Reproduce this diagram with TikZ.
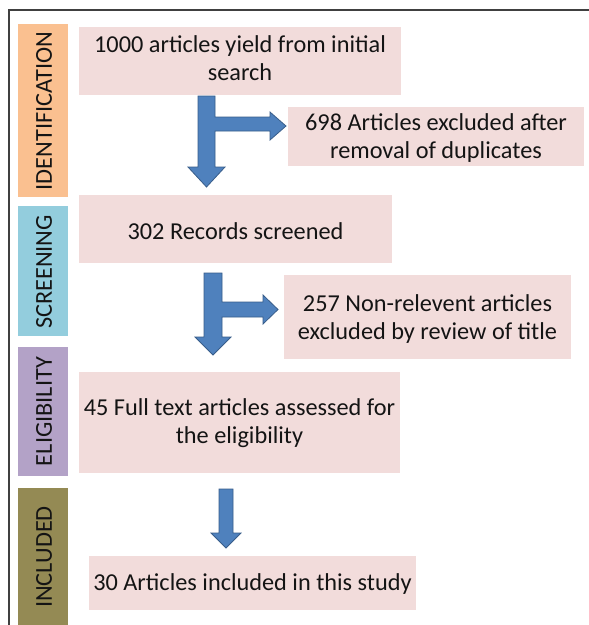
\documentclass[tikz,border=0pt]{standalone}
\usepackage{fontspec}
\setmainfont{Carlito}
\definecolor{boxpink}{HTML}{F2DCDB}
\definecolor{arrfill}{HTML}{4F81BD}
\definecolor{arrline}{HTML}{385D8A}
\definecolor{idcol}{HTML}{FAC090}
\definecolor{sccol}{HTML}{93CDDD}
\definecolor{elcol}{HTML}{B3A2C7}
\definecolor{incol}{HTML}{948A54}
\definecolor{txt}{HTML}{141414}
\definecolor{frame}{HTML}{404040}
\begin{document}
\begin{tikzpicture}[x=1pt,y=-1pt,
  stagebox/.style={fill=none, draw=none, text=txt, align=center, font=\fontsize{24.3}{28.5}\selectfont},
  sidelabel/.style={rotate=90, text=txt, font=\fontsize{24.3}{28.5}\selectfont},
  blockarrow/.style={fill=arrfill, draw=arrline, line width=0.8pt, line join=miter}]
\useasboundingbox (0,0) rectangle (589,625);
\fill[white] (0,0) rectangle (589,625);
% frame
\draw[frame, line width=2pt] (9,625) -- (9,10) -- (589,10);
% side bars
\fill[idcol] (18,24) rectangle (68,197);
\fill[sccol] (18,206) rectangle (68,336);
\fill[elcol] (18,347) rectangle (68,476);
\fill[incol] (18,488) rectangle (68,625);
\node[sidelabel] (lid) at (44,111) {IDENTIFICATION};
\node[sidelabel] (lsc) at (44,272) {SCREENING};
\node[sidelabel] (lel) at (44,411.5) {ELIGIBILITY};
\node[sidelabel] (lin) at (44,557) {INCLUDED};
% boxes
\fill[boxpink] (79,27) rectangle (401,95);
\node[stagebox] (b1) at (240,58) {1000 articles yield from initial\\search};
\fill[boxpink] (288,107) rectangle (584,166);
\node[stagebox] (b2) at (436,138) {698 Articles excluded after\\removal of duplicates};
\fill[boxpink] (79,195) rectangle (392,263);
\node[stagebox] (b3) at (235.5,231) {302 Records screened};
\fill[boxpink] (284,275) rectangle (571,359);
\node[stagebox] (b4) at (427.5,319) {257 Non-relevent articles\\excluded by review of title};
\fill[boxpink] (79,372) rectangle (400,473);
\node[stagebox] (b5) at (239.5,423) {45 Full text articles assessed for\\the eligibility};
\fill[boxpink] (89,556) rectangle (416,610);
\node[stagebox] (b6) at (252.5,584) {30 Articles included in this study};
% block arrows
\draw[blockarrow] (198,96) -- (215,96) -- (215,117) -- (270,117) -- (270,112) -- (286,126) -- (270,140) -- (270,131) -- (215,131) -- (215,167) -- (225,167) -- (206.5,187) -- (188,167) -- (198,167) -- cycle;
\draw[blockarrow] (204,273) -- (222,273) -- (222,302) -- (263,302) -- (263,295) -- (278,309.5) -- (263,324) -- (263,317) -- (222,317) -- (222,337) -- (231,337) -- (213,355) -- (195,337) -- (204,337) -- cycle;
\draw[blockarrow] (219,489) -- (233,489) -- (233,533) -- (241,533) -- (226,548) -- (211,533) -- (219,533) -- cycle;
\end{tikzpicture}
\end{document}
